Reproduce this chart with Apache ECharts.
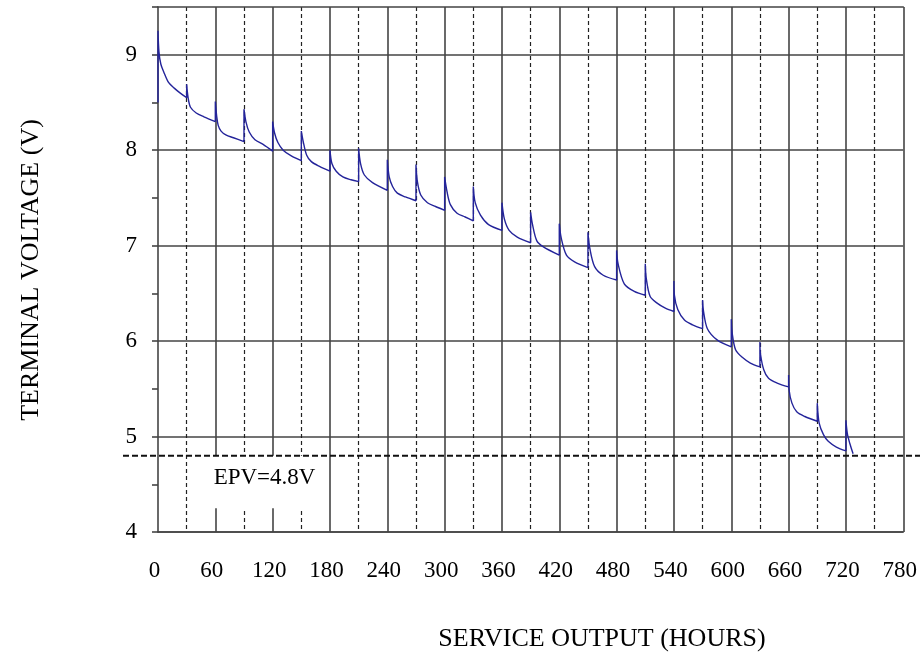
<!DOCTYPE html>
<html>
<head>
<meta charset="utf-8">
<script src="https://cdn.jsdelivr.net/npm/echarts@6/dist/echarts.min.js"></script>
<style>
html,body{margin:0;padding:0;background:#fff;}
#chart{width:920px;height:657px;}
</style>
</head>
<body>
<div id="chart"></div>
<script>
// ---- data ----
const hours = [
  0, 0, 1, 3, 6, 11, 17, 23, 30,
  30, 31.5, 34, 40, 48, 60,
  60, 61.5, 63, 66, 71, 79, 90,
  90, 92, 95.5, 101.5, 110, 120,
  120, 122, 125.5, 131, 139.5, 150,
  150, 152, 155.5, 160.5, 169, 180,
  180, 182, 186.5, 193.5, 202, 210,
  210, 212, 216, 224.5, 240,
  240, 242, 245.5, 250.5, 259, 270,
  270, 271.5, 275, 282, 290.5, 300,
  300, 302.5, 306, 313, 321.5, 330,
  330, 332, 337.5, 346, 360,
  360, 362.5, 367.5, 376, 390,
  390, 392, 396.5, 403, 420,
  420, 422, 427.5, 436, 450,
  450, 452, 457, 466, 480,
  480, 481.5, 488, 498.5, 510,
  510, 511, 515, 522, 531, 540,
  540, 540.5, 544, 551, 559.5, 570,
  570, 571, 575, 585.5, 600,
  600, 601, 604.5, 611.5, 620, 630,
  630, 630.5, 634, 639, 648, 660,
  660, 660.5, 663.5, 668.5, 677, 690,
  690, 692, 696.5, 701.5, 710, 720,
  720, 721.5, 724, 727.5
];
const volts = [
  8.50, 9.25, 9.03, 8.90, 8.82, 8.71, 8.65, 8.60, 8.55,
  8.69, 8.55, 8.45, 8.39, 8.35, 8.30,
  8.51, 8.35, 8.26, 8.20, 8.16, 8.13, 8.09,
  8.43, 8.30, 8.19, 8.11, 8.06, 7.99,
  8.30, 8.18, 8.08, 8.00, 7.94, 7.89,
  8.20, 8.09, 7.95, 7.88, 7.83, 7.78,
  8.00, 7.86, 7.78, 7.72, 7.69, 7.67,
  8.02, 7.86, 7.74, 7.66, 7.58,
  7.90, 7.72, 7.62, 7.55, 7.51, 7.47,
  7.85, 7.67, 7.53, 7.45, 7.41, 7.37,
  7.72, 7.565, 7.43, 7.34, 7.30, 7.26,
  7.62, 7.45, 7.32, 7.22, 7.16,
  7.45, 7.28, 7.16, 7.09, 7.03,
  7.35, 7.22, 7.05, 6.99, 6.90,
  7.23, 7.08, 6.90, 6.83, 6.77,
  7.14, 6.97, 6.78, 6.69, 6.64,
  6.95, 6.81, 6.60, 6.52, 6.48,
  6.81, 6.66, 6.47, 6.40, 6.345, 6.31,
  6.63, 6.48, 6.33, 6.22, 6.17, 6.13,
  6.43, 6.31, 6.13, 6.01, 5.94,
  6.23, 6.08, 5.91, 5.83, 5.77, 5.73,
  5.99, 5.87, 5.70, 5.61, 5.56, 5.52,
  5.645, 5.49, 5.35, 5.26, 5.21, 5.16,
  5.35, 5.14, 5.02, 4.95, 4.89, 4.85,
  5.17, 5.03, 4.93, 4.82
];
const epv = 4.8;
const epvLabel = 'EPV=4.8V';
const xName = 'SERVICE OUTPUT (HOURS)';
const yName = 'TERMINAL VOLTAGE (V)';
const xRange = [0, 780];
const yRange = [4, 9.5];
const epvBoxHours = [45, 178];
const epvBoxBottom = 4.25;

// ---- chart ----
const FONT = "'Liberation Serif', 'Times New Roman', serif";
const GRID_LINE = '#444';
const series = hours.map((h, i) => [h, volts[i]]);
const chart = echarts.init(document.getElementById('chart'), null, {renderer: 'canvas'});

const yLineColors = [];
for (let v = yRange[0]; v <= yRange[1] + 1e-9; v += 0.5) {
  yLineColors.push(Math.abs(v - Math.round(v)) < 1e-9 ? GRID_LINE : 'rgba(0,0,0,0)');
}

chart.setOption({
  animation: false,
  backgroundColor: '#fff',
  grid: [
    {left: 158, right: 13, top: 7, bottom: 125, containLabel: false},
    {left: 123, right: 0, top: 7, bottom: 125, containLabel: false}
  ],
  xAxis: [
    {
      type: 'value', gridIndex: 0, min: xRange[0], max: xRange[1], interval: 60,
      axisLine: {show: true, onZero: false, lineStyle: {color: GRID_LINE, width: 1.6}},
      axisTick: {show: false},
      axisLabel: {color: '#000', fontFamily: FONT, fontSize: 23, margin: 27, padding: [0, 7, 0, 0]},
      splitLine: {show: true, showMinLine: false, lineStyle: {color: GRID_LINE, width: 1.6}}
    },
    {
      type: 'value', gridIndex: 0, position: 'top', min: xRange[0], max: xRange[1], interval: 30,
      axisLine: {show: true, onZero: false, lineStyle: {color: GRID_LINE, width: 1.6}},
      axisTick: {show: false},
      axisLabel: {show: false},
      splitLine: {show: true, lineStyle: {color: ['rgba(0,0,0,0)', '#222'], width: 1.2, type: [4, 3]}}
    },
    {type: 'value', gridIndex: 1, min: 0, max: 1, show: false}
  ],
  yAxis: [
    {
      type: 'value', gridIndex: 0, min: yRange[0], max: yRange[1], interval: 0.5,
      axisLine: {show: true, onZero: false, lineStyle: {color: GRID_LINE, width: 1.6}},
      axisTick: {show: true, length: 6, lineStyle: {color: GRID_LINE, width: 1.6}},
      axisLabel: {
        color: '#000', fontFamily: FONT, fontSize: 23, margin: 21,
        formatter: v => (Math.abs(v - Math.round(v)) < 1e-9 ? String(Math.round(v)) : '')
      },
      splitLine: {show: true, lineStyle: {color: yLineColors, width: 1.6}}
    },
    {type: 'value', gridIndex: 1, min: yRange[0], max: yRange[1], show: false}
  ],
  series: [
    {
      type: 'line', xAxisIndex: 0, yAxisIndex: 0,
      data: series, symbol: 'none', smooth: 0.3,
      lineStyle: {color: '#24249a', width: 1.4},
      z: 3,
      markArea: {
        silent: true,
        itemStyle: {color: '#fff', opacity: 1},
        label: {
          show: true, position: 'insideTop', distance: 11,
          color: '#000', fontFamily: FONT, fontSize: 23
        },
        data: [[
          {coord: [epvBoxHours[0], epv], name: epvLabel},
          {coord: [epvBoxHours[1], epvBoxBottom]}
        ]]
      }
    },
    {
      type: 'line', xAxisIndex: 2, yAxisIndex: 1,
      data: [[0, epv], [1, epv]], symbol: 'none', silent: true,
      lineStyle: {color: '#111', width: 2, type: [6, 3]},
      z: 10
    }
  ],
  graphic: [
    {
      type: 'text', x: 31, y: 270, rotation: Math.PI / 2,
      style: {
        text: yName, fill: '#000', font: "26px " + FONT,
        textAlign: 'center', textVerticalAlign: 'middle', align: 'center', verticalAlign: 'middle'
      }
    },
    {
      type: 'text', x: 602, y: 639,
      style: {
        text: xName, fill: '#000', font: "26px " + FONT,
        textAlign: 'center', textVerticalAlign: 'middle', align: 'center', verticalAlign: 'middle'
      }
    }
  ]
});
</script>
</body>
</html>
